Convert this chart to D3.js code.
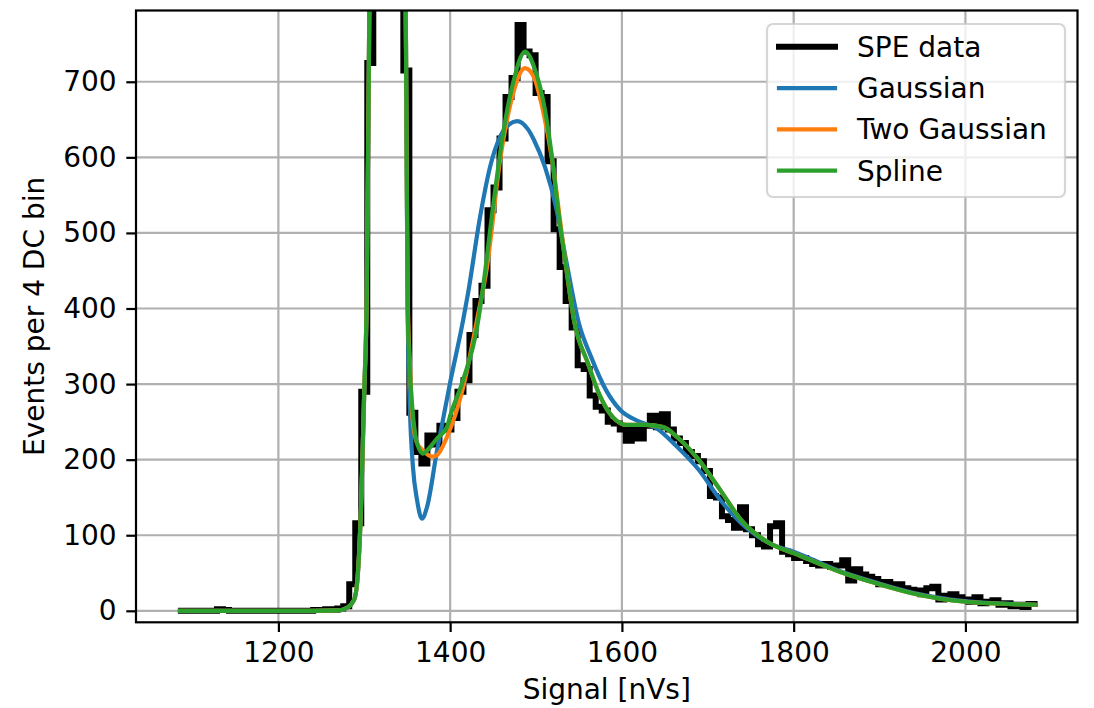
<!DOCTYPE html>
<html>
<head>
<meta charset="utf-8">
<style>
  body { margin: 0; background: white; }
  svg text { font-family: "DejaVu Sans", sans-serif; fill: black; }
</style>
</head>
<body>
<script src="https://cdn.jsdelivr.net/npm/d3@7/dist/d3.min.js"></script>
<script>
// SPE histogram, 4 DC bins (bin centres in nVs)
var binStart = 1083, binWidth = 7
var speCounts = [
    0, 0, 0, 0, 0, 0, 0, 2, 1, 0,
    0, 0, 0, 0, 0, 0, 0, 0, 0, 0,
    0, 0, 0, 1, 1, 2, 1, 3, 6, 35,
    116, 290, 725, 1600, 2600, 2800, 2300, 1300, 715, 262,
    210, 195, 232, 220, 245, 240, 255, 290, 305, 365,
    410, 430, 530, 560, 625, 680, 705, 775, 740, 735,
    685, 680, 595, 505, 455, 410, 375, 325, 320, 285,
    270, 265, 250, 248, 240, 225, 240, 228, 245, 258,
    243, 260, 240, 228, 222, 210, 205, 198, 185, 152,
    150, 125, 120, 110, 137, 108, 100, 88, 85, 112,
    116, 78, 75, 70, 70, 66, 62, 60, 62, 58,
    60, 67, 40, 55, 48, 45, 42, 35, 38, 33,
    35, 30, 28, 27, 22, 30, 32, 15, 20, 22,
    18, 15, 12, 18, 10, 12, 14, 8, 10, 6,
    8, 5, 9, 9
]

// fitted curves
var splineX = [1083, 1240, 1270, 1280, 1288, 1292, 1296.5, 1300, 1302.8, 1305.5, 1310, 1318, 1326, 1334, 1342, 1348.6,
    1350.5, 1355.2, 1359.1, 1364.9, 1368.4, 1373, 1384.7, 1396.3, 1399.8, 1415, 1431.3, 1438.3, 1449.9, 1461.6, 1473.2,
    1487.2, 1497.6, 1510.5, 1518.6, 1526.8, 1535, 1544.3, 1560.6, 1573.4, 1589.7, 1606, 1627, 1648, 1664.3, 1689.9,
    1714.4, 1738.9, 1772.6, 1800.6, 1855.1, 1897, 1938.9, 1999.5, 2083]
var splineY = [0, 0, 0.5, 4, 14, 41, 147, 292, 411, 745, 1400, 2400, 2800, 2600, 1700, 745,
    400, 279, 235, 212, 208, 212, 228, 243, 257, 305, 375, 428, 534, 631, 698,
    740, 720, 662, 600, 521, 455, 384, 327, 287, 256, 246, 246, 243, 230, 199,
    160, 120, 89, 76, 51, 36, 23, 12, 8]

var twoGaussX = [1083, 1240, 1270, 1280, 1288, 1292, 1296.5, 1300, 1302.8, 1305.5, 1310, 1318, 1326, 1334, 1342, 1348.6,
    1350.5, 1353.2, 1356.7, 1361.4, 1368.4, 1378.9, 1384.7, 1396.3, 1415, 1431.3, 1442.9, 1458.1, 1473.2, 1487.2,
    1497.6, 1508.1, 1518.6, 1527.5, 1535, 1544.3, 1560.6, 1573.4, 1589.7, 1606, 1627, 1648, 1664.3, 1689.9,
    1714.4, 1738.9, 1772.6, 1800.6, 1855.1, 1897, 1938.9, 1999.5, 2083]
var twoGaussY = [0, 0, 0.5, 4, 14, 41, 147, 292, 411, 745, 1400, 2400, 2800, 2600, 1700, 745,
    420, 323, 248, 222, 212, 204, 206, 230, 295, 385, 455, 596, 684, 718,
    706, 662, 598, 521, 455, 384, 327, 287, 256, 246, 246, 243, 230, 199,
    160, 120, 89, 76, 51, 36, 23, 12, 8]

var gaussX = [1083, 1240, 1270, 1280, 1288, 1292, 1296.5, 1300, 1302.8, 1305.5, 1310, 1318, 1326, 1334, 1342, 1348.6,
    1350.5, 1353.2, 1356.7, 1361.4, 1367.2, 1373, 1384.7, 1399.8, 1415, 1420.8, 1434.8, 1446.4, 1458.1, 1468,
    1477.9, 1490.7, 1497.6, 1510.5, 1523.3, 1535, 1550, 1564.1, 1581.5, 1597.8, 1618.8, 1639.8, 1664.3, 1689.9,
    1714.4, 1738.9, 1772.6, 1800.6, 1855.1, 1897, 1938.9, 1999.5, 2083]
var gaussY = [0, 0, 0.5, 4, 14, 41, 147, 292, 411, 745, 1400, 2400, 2800, 2600, 1700, 745,
    400, 265, 190, 147, 122, 137, 212, 301, 384, 420, 521, 587, 627, 643,
    648, 637, 623, 587, 534, 464, 380, 336, 292, 266, 251, 242, 217, 186,
    147, 116, 89, 78, 52, 37, 24, 13, 8]

var xTicks = [1200, 1400, 1600, 1800, 2000]
var yTicks = [0, 100, 200, 300, 400, 500, 600, 700]
var legendLabels = ["SPE data", "Gaussian", "Two Gaussian", "Spline"]

var width = 1094, height = 708
var plot = {left: 136, right: 1077.5, top: 10.5, bottom: 622.3}
var fontSize = 28, lw = 2.2
var colors = {"SPE data": "black", "Gaussian": "#1f77b4", "Two Gaussian": "#ff7f0e", "Spline": "#2ca02c"}
var widths = {"SPE data": 6, "Gaussian": 4.2, "Two Gaussian": 4.2, "Spline": 4.2}

var svg = d3.select("body").append("svg")
    .attr("width", width)
    .attr("height", height)

var x = d3.scaleLinear().domain([1034.2, 2130.5]).range([plot.left, plot.right])
var y = d3.scaleLinear().domain([-15.2, 794.3]).range([plot.bottom, plot.top])

// grid
svg.append("g").selectAll("line.vgrid")
    .data(xTicks)
    .enter().append("line")
    .attr("x1", d => x(d)).attr("x2", d => x(d))
    .attr("y1", plot.top).attr("y2", plot.bottom)
    .attr("stroke", "#b0b0b0").attr("stroke-width", lw)

svg.append("g").selectAll("line.hgrid")
    .data(yTicks)
    .enter().append("line")
    .attr("x1", plot.left).attr("x2", plot.right)
    .attr("y1", d => y(d)).attr("y2", d => y(d))
    .attr("stroke", "#b0b0b0").attr("stroke-width", lw)

svg.append("clipPath").attr("id", "clip")
    .append("rect")
    .attr("x", plot.left).attr("y", plot.top)
    .attr("width", plot.right - plot.left).attr("height", plot.bottom - plot.top)

var g = svg.append("g").attr("clip-path", "url(#clip)")

// histogram as steps
var hist = speCounts.map((c, i) => [binStart + i * binWidth, c])
g.append("path")
    .datum(hist)
    .attr("fill", "none")
    .attr("stroke", colors["SPE data"])
    .attr("stroke-width", widths["SPE data"])
    .attr("stroke-linejoin", "miter")
    .attr("d", d3.line().x(d => x(d[0])).y(d => y(d[1])).curve(d3.curveStep))

var fits = [
    {name: "Gaussian", xs: gaussX, ys: gaussY},
    {name: "Two Gaussian", xs: twoGaussX, ys: twoGaussY},
    {name: "Spline", xs: splineX, ys: splineY}
]

var fitLine = d3.line().x(d => x(d[0])).y(d => y(d[1])).curve(d3.curveMonotoneX)

fits.forEach(f => {
    g.append("path")
        .datum(f.xs.map((v, i) => [v, f.ys[i]]))
        .attr("fill", "none")
        .attr("stroke", colors[f.name])
        .attr("stroke-width", widths[f.name])
        .attr("stroke-linejoin", "round")
        .attr("d", fitLine)
})

// axes
var xAxis = svg.append("g")
    .attr("transform", `translate(0,${plot.bottom})`)
    .call(d3.axisBottom(x).tickValues(xTicks).tickSize(9.7).tickPadding(9.7).tickFormat(d3.format("d")))
var yAxis = svg.append("g")
    .attr("transform", `translate(${plot.left},0)`)
    .call(d3.axisLeft(y).tickValues(yTicks).tickSize(9.7).tickPadding(9.7).tickFormat(d3.format("d")))

;[xAxis, yAxis].forEach(a => {
    a.select(".domain").remove()
    a.selectAll(".tick line").attr("stroke", "black").attr("stroke-width", lw)
    a.selectAll(".tick text").style("font-size", fontSize + "px").attr("fill", "black")
})

svg.append("rect")
    .attr("x", plot.left).attr("y", plot.top)
    .attr("width", plot.right - plot.left).attr("height", plot.bottom - plot.top)
    .attr("fill", "none").attr("stroke", "black").attr("stroke-width", lw)

// axis labels
svg.append("text")
    .attr("x", (plot.left + plot.right) / 2)
    .attr("y", 699)
    .attr("text-anchor", "middle")
    .style("font-size", fontSize + "px")
    .text("Signal [nVs]")

svg.append("text")
    .attr("transform", `translate(44,${(plot.top + plot.bottom) / 2}) rotate(-90)`)
    .attr("text-anchor", "middle")
    .style("font-size", fontSize + "px")
    .text("Events per 4 DC bin")

// legend
var legend = svg.append("g")
legend.append("rect")
    .attr("x", 767).attr("y", 24)
    .attr("width", 298).attr("height", 173)
    .attr("rx", 6)
    .attr("fill", "white").attr("fill-opacity", 0.8)
    .attr("stroke", "#cccccc").attr("stroke-opacity", 0.8).attr("stroke-width", 2.2)

var rowY = d3.scalePoint().domain(legendLabels).range([46.7, 170.7])

legend.selectAll("line.key")
    .data(legendLabels)
    .enter().append("line")
    .attr("x1", 779).attr("x2", 835)
    .attr("y1", d => rowY(d)).attr("y2", d => rowY(d))
    .attr("stroke", d => colors[d])
    .attr("stroke-width", d => d === "SPE data" ? 6 : 4.2)
    .attr("stroke-linecap", "square")

legend.selectAll("text.key")
    .data(legendLabels)
    .enter().append("text")
    .attr("x", 857)
    .attr("y", d => rowY(d))
    .attr("dy", "0.36em")
    .style("font-size", fontSize + "px")
    .text(d => d)
</script>
</body>
</html>
